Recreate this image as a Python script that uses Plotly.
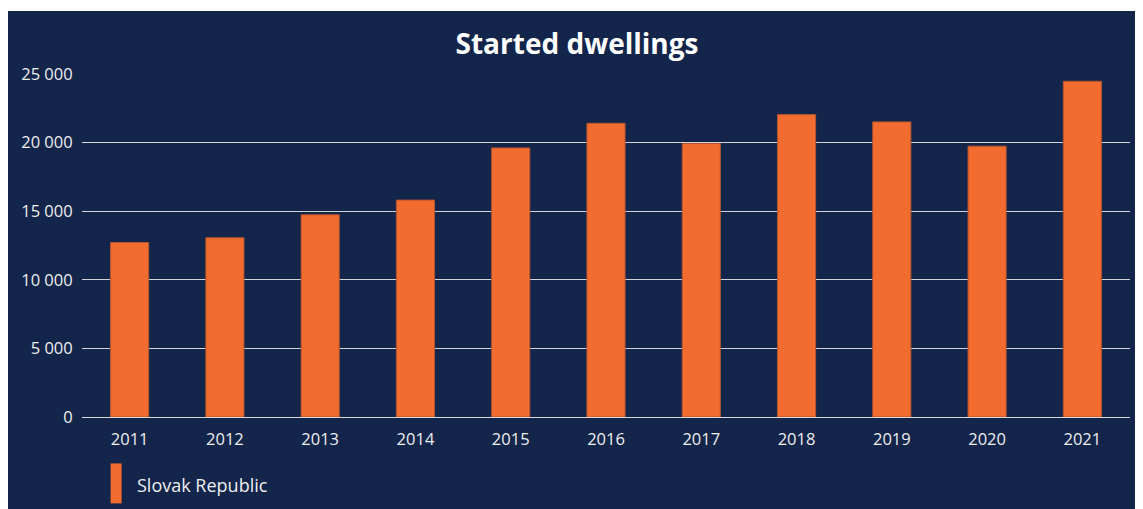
import plotly.graph_objects as go

years = ["2011", "2012", "2013", "2014", "2015", "2016", "2017", "2018", "2019", "2020", "2021"]
started = [12720, 13060, 14740, 15810, 19610, 21410, 19930, 22040, 21510, 19740, 24470]
series_name = "Slovak Republic"
y_tickvals = [0, 5000, 10000, 15000, 20000, 25000]
y_ticktext = ["0", "5 000", "10 000", "15 000", "20 000", "25 000"]

NAVY = "#13254b"
ORANGE = "#f26b2f"
FONT = "Open Sans"

OFF = 8  # page body margin
W, H = 1143 - OFF, 509 - OFF
L, R, T, B = 74.4, 13, 66, 91.5
pw = W - L - R
ph = H - T - B

def px_x(x):
    # page pixel -> paper coordinate
    return (x - OFF - L) / pw

def px_y(y):
    return (H - B - (y - OFF)) / ph

fig = go.Figure()
fig.add_trace(go.Bar(
    x=years, y=started, name=series_name,
    marker=dict(color=ORANGE, line=dict(color="#b4552f", width=1)),
    showlegend=False,
))

fig.update_layout(
    width=W, height=H,
    margin=dict(l=L, r=R, t=T, b=B, autoexpand=False),
    paper_bgcolor="white",
    plot_bgcolor=NAVY,
    bargap=0.6,
    font=dict(family=FONT, color="#eeeeee", size=16),
    title=dict(text="<b>Started dwellings</b>", xref="container", yref="container",
               x=(577 - OFF) / W, y=1 - (44 - OFF) / H, xanchor="center", yanchor="middle",
               font=dict(family=FONT, size=28, color="white")),
    xaxis=dict(showgrid=False, showline=True, linecolor="#d9d9d9", linewidth=1,
               ticks="outside", ticklen=7, tickcolor="rgba(0,0,0,0)",
               tickfont=dict(size=16.5, color="#eeeeee")),
    yaxis=dict(range=[0, 25000], tickvals=y_tickvals, ticktext=y_ticktext,
               showgrid=True, gridcolor="#d4d4d4", gridwidth=1,
               zeroline=False, showline=False,
               ticks="outside", ticklen=5, tickcolor="rgba(0,0,0,0)",
               tickfont=dict(size=16.5, color="#eeeeee")),
    shapes=[
        dict(type="rect", xref="paper", yref="paper", layer="below",
             x0=px_x(OFF), x1=px_x(1160), y0=px_y(530), y1=px_y(11),
             fillcolor=NAVY, line=dict(width=0)),
        dict(type="rect", xref="paper", yref="paper",
             x0=px_x(111), x1=px_x(122), y0=px_y(504), y1=px_y(464),
             fillcolor=ORANGE, line=dict(width=0)),
    ],
    annotations=[
        dict(text=series_name, xref="paper", yref="paper", x=px_x(135), y=px_y(486),
             xanchor="left", yanchor="middle", showarrow=False,
             font=dict(family=FONT, size=18, color="#eeeeee")),
    ],
)

fig.write_html("out.html")
